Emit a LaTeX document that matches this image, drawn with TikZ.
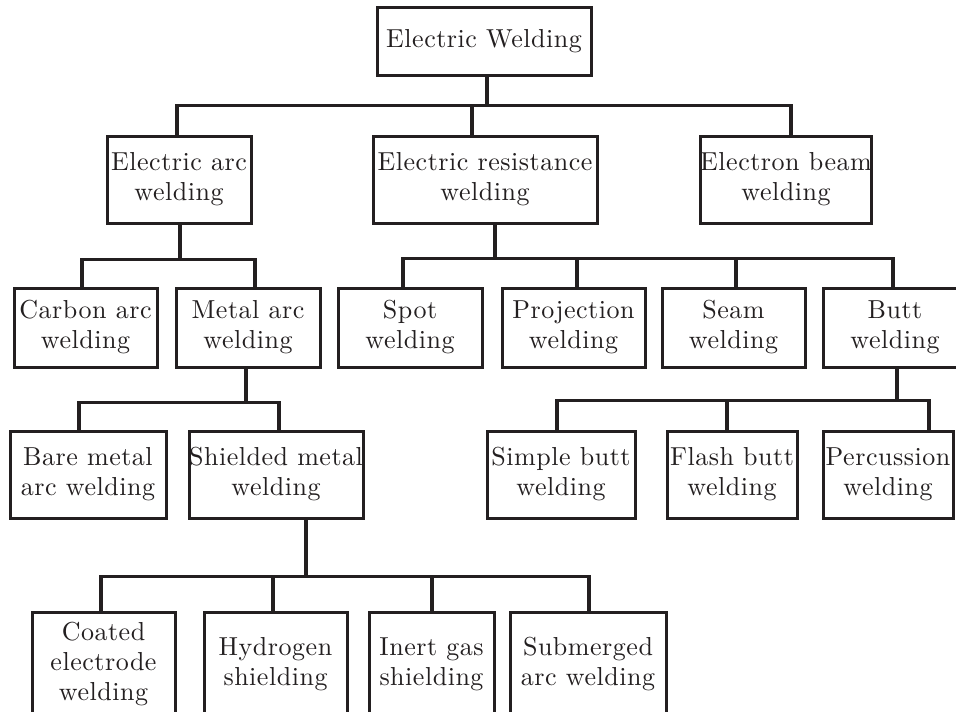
\documentclass[tikz,border=0pt]{standalone}
\usepackage{fontspec}
\setmainfont{lmroman10-regular.otf}[LetterSpace=2]
\definecolor{ink}{HTML}{231F20}
\begin{document}
\begin{tikzpicture}[x=1pt,y=-1pt,
  box/.style={draw=ink, line width=3pt, rectangle, align=center, inner sep=0pt,
    text=ink, font=\fontsize{26}{30}\selectfont},
  link/.style={draw=ink, line width=3.2pt}]
\clip (0,0) rectangle (956,712);
\fill[white] (0,0) rectangle (956,712);
% level 0
\node[box, minimum width=214pt, minimum height=68pt] (root) at (484,41) {Electric Welding};
% level 1
\node[box, minimum width=144pt, minimum height=87pt] (arc) at (179,179.5) {Electric arc\\welding};
\node[box, minimum width=224pt, minimum height=87pt] (res) at (485,179.5) {Electric resistance\\welding};
\node[box, minimum width=164pt, minimum height=87pt] (beam) at (786,179.5) {Electron beam\\welding};
% level 2
\node[box, minimum width=143pt, minimum height=79pt] (carbon) at (85.5,327.5) {Carbon arc\\welding};
\node[box, minimum width=144pt, minimum height=79pt] (metal) at (248,327.5) {Metal arc\\welding};
\node[box, minimum width=144pt, minimum height=79pt] (spot) at (410,327.5) {Spot\\welding};
\node[box, minimum width=143pt, minimum height=79pt] (proj) at (573.5,327.5) {Projection\\welding};
\node[box, minimum width=143pt, minimum height=79pt] (seam) at (733.5,327.5) {Seam\\welding};
\node[box, minimum width=144pt, minimum height=79pt] (butt) at (895,327.5) {Butt\\welding};
% level 3
\node[box, minimum width=156pt, minimum height=87pt] (bare) at (88,474.5) {Bare metal\\arc welding};
\node[box, minimum width=174pt, minimum height=87pt] (shield) at (276,474.5) {Shielded metal\\welding};
\node[box, minimum width=148pt, minimum height=87pt] (simple) at (561,474.5) {Simple butt\\welding};
\node[box, minimum width=130pt, minimum height=87pt] (flash) at (732,474.5) {Flash butt\\welding};
\node[box, minimum width=130pt, minimum height=87pt] (perc) at (888,474.5) {Percussion\\welding};
% level 4
\node[box, minimum width=143pt, minimum height=104pt] (coated) at (103.5,664) {Coated\\electrode\\welding};
\node[box, minimum width=143pt, minimum height=104pt] (hydro) at (275.5,664) {Hydrogen\\shielding};
\node[box, minimum width=125pt, minimum height=104pt] (inert) at (431.5,664) {Inert gas\\shielding};
\node[box, minimum width=156pt, minimum height=104pt] (subm) at (588,664) {Submerged\\arc welding};
% connectors
\draw[link] ([xshift=3pt]root.south) -- ++(0,29) -| ([xshift=-2pt]arc.north);
\draw[link] ([xshift=3pt]root.south) -- ++(0,29) -| ([xshift=-13pt]res.north);
\draw[link] ([xshift=3pt]root.south) -- ++(0,29) -| ([xshift=5pt]beam.north);

\draw[link] ([xshift=1pt]arc.south) -- ++(0,35) -| ([xshift=-3.5pt]carbon.north);
\draw[link] ([xshift=1pt]arc.south) -- ++(0,35) -| ([xshift=7pt]metal.north);

\draw[link] ([xshift=10pt]res.south) -- ++(0,34) -| ([xshift=-7pt]spot.north);
\draw[link] ([xshift=10pt]res.south) -- ++(0,34) -| ([xshift=3.5pt]proj.north);
\draw[link] ([xshift=10pt]res.south) -- ++(0,34) -| ([xshift=2.5pt]seam.north);
\draw[link] ([xshift=10pt]res.south) -- ++(0,34) -| ([xshift=-2pt]butt.north);

\draw[link] ([xshift=-2pt]metal.south) -- ++(0,34) -| ([xshift=-9pt]bare.north);
\draw[link] ([xshift=-2pt]metal.south) -- ++(0,34) -| ([xshift=3pt]shield.north);

\draw[link] ([xshift=2pt]butt.south) -- ++(0,32) -| ([xshift=-4pt]simple.north);
\draw[link] ([xshift=2pt]butt.south) -- ++(0,32) -| ([xshift=-5pt]flash.north);
\draw[link] ([xshift=2pt]butt.south) -- ++(0,32) -| ([xshift=41pt]perc.north);

\draw[link] ([xshift=30pt]shield.south) -- ++(0,57) -| ([xshift=-2.5pt]coated.north);
\draw[link] ([xshift=30pt]shield.south) -- ++(0,57) -| ([xshift=-2.5pt]hydro.north);
\draw[link] ([xshift=30pt]shield.south) -- ++(0,57) -| ([xshift=0.5pt]inert.north);
\draw[link] ([xshift=30pt]shield.south) -- ++(0,57) -| ([xshift=1pt]subm.north);
\end{tikzpicture}
\end{document}
